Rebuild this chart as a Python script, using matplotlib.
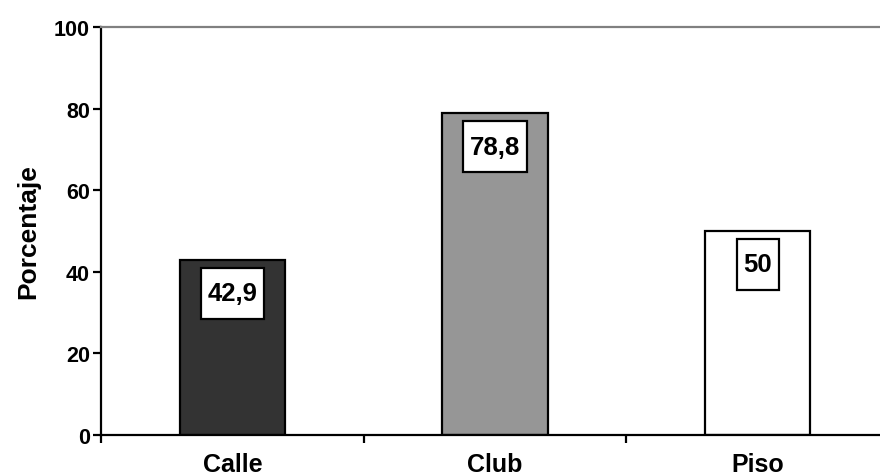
import matplotlib.pyplot as plt
from matplotlib.path import Path

plt.rcParams["font.family"] = ["Liberation Sans", "DejaVu Sans"]
plt.rcParams["font.weight"] = "bold"

categories = ["Calle", "Club", "Piso"]
values = [42.9, 78.8, 50]
value_labels = ["42,9", "78,8", "50"]
bar_colors = ["#333333", "#969696", "#ffffff"]
y_ticks = [0, 20, 40, 60, 80, 100]


def label_box(x0, y0, width, height, mutation_size):
    # narrow side padding, tall top/bottom padding
    px = 0.26 * mutation_size
    py = 0.52 * mutation_size
    x0, x1 = x0 - px, x0 + width + px
    y0, y1 = y0 - py, y0 + height + py
    verts = [(x0, y0), (x1, y0), (x1, y1), (x0, y1), (x0, y0)]
    codes = [Path.MOVETO] + [Path.LINETO] * 3 + [Path.CLOSEPOLY]
    return Path(verts, codes)


fig = plt.figure(figsize=(8.8, 4.77), dpi=100)
ax = fig.add_axes([101 / 880, 41 / 477, 788 / 880, 408 / 477])

x = list(range(len(categories)))
ax.bar(x, values, width=0.4, color=bar_colors, edgecolor="black", linewidth=1.6, zorder=2)

for xi, val, lab in zip(x, values, value_labels):
    ax.annotate(
        lab,
        xy=(xi, val),
        xytext=(0, -24),
        textcoords="offset points",
        ha="center",
        va="center",
        fontsize=18.5,
        fontweight="bold",
        bbox=dict(boxstyle=label_box, facecolor="white", edgecolor="black", linewidth=1.6),
        zorder=3,
    )

ax.set_xlim(-0.5, 2.5)
ax.set_ylim(0, 100)
ax.set_yticks(y_ticks)
ax.set_yticklabels([str(t) for t in y_ticks], fontsize=15.5, fontweight="bold")
ax.set_xticks(x)
ax.set_xticklabels(categories, fontsize=18, fontweight="bold")
ax.set_xticks([-0.5, 0.5, 1.5, 2.5], minor=True)
ax.tick_params(axis="x", which="major", length=0, pad=12)
ax.tick_params(axis="x", which="minor", length=6, width=1.6, direction="out")
ax.tick_params(axis="y", length=6, width=1.6, direction="out", pad=2)

ax.set_ylabel("Porcentaje", fontsize=19, fontweight="bold", labelpad=10)

ax.spines["left"].set_linewidth(1.6)
ax.spines["bottom"].set_linewidth(1.6)
ax.spines["top"].set_color("#808080")
ax.spines["top"].set_linewidth(1.6)
ax.spines["right"].set_visible(False)

fig.savefig("out.png", dpi=100)
